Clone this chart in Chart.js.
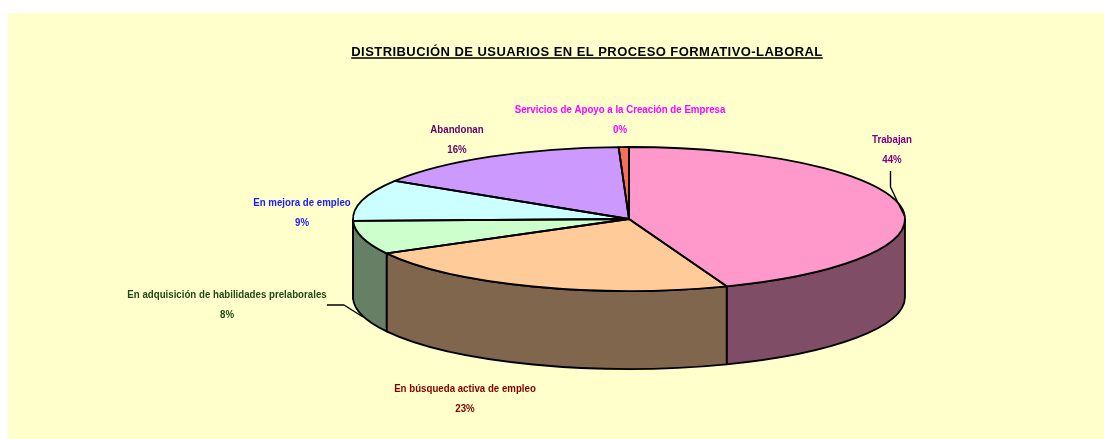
<!DOCTYPE html>
<html><head><meta charset="utf-8">
<style>html,body{margin:0;padding:0;background:#fff}canvas{display:block}</style>
<script src="https://cdn.jsdelivr.net/npm/chart.js@4"></script>
</head><body><canvas id="c" width="1104" height="439"></canvas>
<script>
const titleText = "DISTRIBUCIÓN DE USUARIOS EN EL PROCESO FORMATIVO-LABORAL";
const categories = ["Trabajan","En búsqueda activa de empleo","En adquisición de habilidades prelaborales","En mejora de empleo","Abandonan","Servicios de Apoyo a la Creación de Empresa"];
const values = [44.2,22.8,7.5,9.3,15.5,0.6];
const percentLabels = ["44%","23%","8%","9%","16%","0%"];
const sliceColors = ["#FF99CC","#FFCC99","#CCFFCC","#CCFFFF","#CC99FF","#F2705C"];
const wallColors = ["#804D66","#80664D","#668066","#668080","#664D80","#79382E"];
const labelColors = ["#800080","#800000","#1F4A12","#1A1AFF","#660066","#FF00FF"];
const labelCenters = [[892,140],[465,389],[227,295],[302,203],[457,130],[620,110]];
const leaders = [[[890.5,171],[890.5,187],[900,207],[905,217]],null,[[327,305],[344,305],[363,317]],null,null,null];
const PIE = {cx:629, cy:219, rx:276, ry:72, h:78};
const BG = {x:8, y:13, color:"#FFFFCC"};
const LABEL_FONT = 'bold 11.5px "Liberation Sans",Arial,sans-serif';
const LABEL_SQUEEZE = 0.843;
const TITLE_SPACING = "0.44px";

const pie3d = {
  id:"pie3d",
  beforeDraw(chart){
    const c = chart.ctx;
    c.fillStyle = BG.color;
    c.fillRect(BG.x,BG.y,chart.width-BG.x,chart.height-BG.y);
    c.letterSpacing = TITLE_SPACING;
  },
  beforeDatasetsDraw(chart){
    const c = chart.ctx, arcs = chart.getDatasetMeta(0).data;
    c.letterSpacing = "0px";
    c.save();
    c.lineWidth = 1.8; c.strokeStyle = "#000"; c.lineJoin = "round";
    arcs.forEach((a,i)=>{
      const s = Math.max(a.startAngle,0), e = Math.min(a.endAngle,Math.PI);
      if(e<=s) return;
      c.beginPath();
      c.ellipse(PIE.cx,PIE.cy,PIE.rx,PIE.ry,0,s,e);
      c.ellipse(PIE.cx,PIE.cy+PIE.h,PIE.rx,PIE.ry,0,e,s,true);
      c.closePath();
      c.fillStyle = wallColors[i];
      c.fill(); c.stroke();
    });
    c.restore();
    const a0 = arcs[0], R = a0.outerRadius;
    c.save();
    c.translate(PIE.cx,PIE.cy);
    c.scale(PIE.rx/R,PIE.ry/R);
    c.translate(-a0.x,-a0.y);
  },
  afterDatasetsDraw(chart){
    const c = chart.ctx, arcs = chart.getDatasetMeta(0).data;
    c.restore();
    c.save();
    c.lineWidth = 1.8; c.strokeStyle = "#000"; c.lineJoin = "round";
    arcs.forEach(a=>{
      c.beginPath();
      c.moveTo(PIE.cx,PIE.cy);
      c.ellipse(PIE.cx,PIE.cy,PIE.rx,PIE.ry,0,a.startAngle,a.endAngle);
      c.closePath();
      c.stroke();
    });
    c.lineWidth = 1.4;
    leaders.forEach(l=>{
      if(!l) return;
      c.beginPath();
      l.forEach((p,k)=>k?c.lineTo(p[0],p[1]):c.moveTo(p[0],p[1]));
      c.stroke();
    });
    c.font = LABEL_FONT; c.textAlign = "center"; c.textBaseline = "middle";
    categories.forEach((t,i)=>{
      c.fillStyle = labelColors[i];
      [[t,0],[percentLabels[i],20]].forEach(([s,dy])=>{
        c.save();
        c.translate(labelCenters[i][0],labelCenters[i][1]+dy);
        c.scale(LABEL_SQUEEZE,1);
        c.fillText(s,0,0);
        c.restore();
      });
    });
    c.restore();
    // title underline
    const tb = chart.titleBlock;
    c.save();
    c.font = 'bold 13px "Liberation Sans",Arial,sans-serif';
    c.letterSpacing = TITLE_SPACING;
    const w = c.measureText(titleText).width, mid = tb.left + tb.width/2;
    c.strokeStyle = "#000"; c.lineWidth = 1.5;
    c.beginPath(); c.moveTo(mid-w/2,58); c.lineTo(mid+w/2,58); c.stroke();
    c.restore();
  }
};

new Chart(document.getElementById("c"),{
  type:"pie",
  data:{labels:categories,datasets:[{data:values,backgroundColor:sliceColors,borderWidth:0}]},
  options:{
    responsive:false,animation:false,
    layout:{padding:{left:70,top:0,right:0,bottom:0}},
    events:[],
    plugins:{
      legend:{display:false},
      tooltip:{enabled:false},
      title:{display:true,text:titleText,color:"#000",fullSize:false,
        font:{family:'"Liberation Sans",Arial,sans-serif',size:13,weight:"bold"},
        padding:{top:45,bottom:4}}
    }
  },
  plugins:[pie3d]
});
</script></body></html>
